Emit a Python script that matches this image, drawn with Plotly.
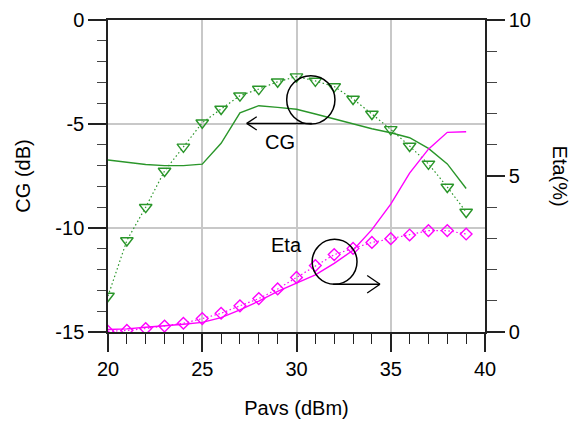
import plotly.graph_objects as go

# ---- data ----
pavs = [20, 21, 22, 23, 24, 25, 26, 27, 28, 29, 30, 31, 32, 33, 34, 35, 36, 37, 38, 39]

cg_sim = [-6.73, -6.85, -6.95, -7.0, -7.0, -6.93, -5.93, -4.46, -4.12, -4.2,
          -4.29, -4.52, -4.75, -4.98, -5.23, -5.42, -5.66, -6.17, -6.92, -8.1]
cg_meas = [-13.27, -10.6, -9.0, -7.26, -6.1, -4.94, -4.28, -3.64, -3.32, -2.97,
           -2.72, -2.93, -3.2, -3.8, -4.52, -5.26, -6.06, -6.92, -8.03, -9.23]

eta_sim = [0.08, 0.1, 0.15, 0.19, 0.25, 0.31, 0.46, 0.71, 0.99, 1.3,
           1.56, 1.83, 2.2, 2.62, 3.28, 4.1, 5.09, 5.86, 6.4, 6.42]
eta_meas = [0.02, 0.05, 0.11, 0.19, 0.28, 0.43, 0.6, 0.84, 1.07, 1.38,
            1.75, 2.13, 2.48, 2.68, 2.87, 2.99, 3.11, 3.25, 3.25, 3.14]

x_ticks = [20, 25, 30, 35, 40]
x_ticktext = ["20", "25", "30", "35", "40"]
cg_ticks = [0, -5, -10, -15]
cg_ticktext = ["0", "-5", "-10", "-15"]
eta_ticks = [0, 5, 10]
eta_ticktext = ["0", "5", "10"]

# annotation geometry (data units)
cg_circle = dict(cx=30.76, cy=-3.84, rx=1.28, ry=1.16)
cg_arrow = dict(x0=30.81, x1=27.36, y=-4.97, hx=27.89, hy=0.32)
cg_label = dict(x=29.15, y=-5.85, text="CG")
eta_circle = dict(cx=32.02, cy=2.25, rx=1.19, ry=0.72)
eta_arrow = dict(x0=31.95, x1=34.43, y=1.53, hx=33.75, hy=0.28)
eta_label = dict(x=29.48, y=2.78, text="Eta")

GREEN = "#2a962a"
MAGENTA = "#ff00ff"
FONT = "Arial, Liberation Sans, sans-serif"
DOT = "1.5px,2.5px"

fig = go.Figure()
fig.add_trace(go.Scatter(x=pavs, y=cg_sim, mode="lines",
                         line=dict(color=GREEN, width=1.4), yaxis="y"))
fig.add_trace(go.Scatter(x=pavs, y=cg_meas, mode="lines+markers",
                         line=dict(color=GREEN, width=1.2, dash=DOT),
                         marker=dict(symbol="triangle-down-open", size=11,
                                     color=GREEN, line=dict(width=1.4)),
                         yaxis="y"))
fig.add_trace(go.Scatter(x=pavs, y=eta_sim, mode="lines",
                         line=dict(color=MAGENTA, width=1.4), yaxis="y2"))
fig.add_trace(go.Scatter(x=pavs, y=eta_meas, mode="lines+markers",
                         line=dict(color=MAGENTA, width=1.2, dash=DOT),
                         marker=dict(symbol="diamond-open", size=9,
                                     color=MAGENTA, line=dict(width=1.4)),
                         yaxis="y2"))

shapes = []
# CG circle + arrow
shapes.append(dict(type="circle", xref="x", yref="y",
                   x0=cg_circle["cx"] - cg_circle["rx"], x1=cg_circle["cx"] + cg_circle["rx"],
                   y0=cg_circle["cy"] - cg_circle["ry"], y1=cg_circle["cy"] + cg_circle["ry"],
                   line=dict(color="black", width=1.5)))
shapes.append(dict(type="line", xref="x", yref="y", x0=cg_arrow["x0"], x1=cg_arrow["x1"],
                   y0=cg_arrow["y"], y1=cg_arrow["y"], line=dict(color="black", width=1.5)))
for s in (1, -1):
    shapes.append(dict(type="line", xref="x", yref="y", x0=cg_arrow["x1"], x1=cg_arrow["hx"],
                       y0=cg_arrow["y"], y1=cg_arrow["y"] + s * cg_arrow["hy"],
                       line=dict(color="black", width=1.3)))
# Eta circle + arrow
shapes.append(dict(type="circle", xref="x", yref="y2",
                   x0=eta_circle["cx"] - eta_circle["rx"], x1=eta_circle["cx"] + eta_circle["rx"],
                   y0=eta_circle["cy"] - eta_circle["ry"], y1=eta_circle["cy"] + eta_circle["ry"],
                   line=dict(color="black", width=1.5)))
shapes.append(dict(type="line", xref="x", yref="y2", x0=eta_arrow["x0"], x1=eta_arrow["x1"],
                   y0=eta_arrow["y"], y1=eta_arrow["y"], line=dict(color="black", width=1.5)))
for s in (1, -1):
    shapes.append(dict(type="line", xref="x", yref="y2", x0=eta_arrow["x1"], x1=eta_arrow["hx"],
                       y0=eta_arrow["y"], y1=eta_arrow["y"] + s * eta_arrow["hy"],
                       line=dict(color="black", width=1.3)))

annotations = [
    dict(xref="x", yref="y", x=cg_label["x"], y=cg_label["y"], text=cg_label["text"],
         showarrow=False, font=dict(size=20, color="black", family=FONT)),
    dict(xref="x", yref="y2", x=eta_label["x"], y=eta_label["y"], text=eta_label["text"],
         showarrow=False, font=dict(size=20, color="black", family=FONT)),
    dict(xref="paper", yref="paper", x=1.2, y=0.5, xanchor="center", yanchor="middle",
         text="Eta(%)", textangle=90,
         showarrow=False, font=dict(size=20, color="black", family=FONT)),
]

axis_common = dict(showline=True, linecolor="#222222", linewidth=1.5,
                   ticks="outside", ticklen=18, tickwidth=1.5, tickcolor="#222222",
                   showgrid=True, gridcolor="#c8c8c8", gridwidth=1.5,
                   zeroline=False, automargin=False,
                   tickfont=dict(size=20, color="black", family=FONT))

# page body has an 8px default margin: figure is sized/offset to compensate
fig.update_layout(
    width=571, height=413,
    margin=dict(l=100, r=94, t=12, b=89),
    paper_bgcolor="white", plot_bgcolor="white",
    showlegend=False,
    font=dict(family=FONT, size=20, color="black"),
    xaxis=dict(range=[20, 40], tickvals=x_ticks, ticktext=x_ticktext, mirror=True,
               minor=dict(dtick=1, ticks="outside", ticklen=10, tickwidth=1.3,
                          tickcolor="#222222", showgrid=False),
               title=dict(text="Pavs (dBm)", standoff=22,
                          font=dict(size=20, family=FONT)),
               **axis_common),
    yaxis=dict(range=[-15, 0], tickvals=cg_ticks, ticktext=cg_ticktext,
               minor=dict(dtick=1, ticks="outside", ticklen=9, tickwidth=1.3,
                          tickcolor="#444444", showgrid=False),
               title=dict(text="CG (dB)", standoff=19,
                          font=dict(size=20, family=FONT)),
               **axis_common),
    yaxis2=dict(range=[0, 10], tickvals=eta_ticks, ticktext=eta_ticktext,
                overlaying="y", side="right",
                minor=dict(dtick=1, ticks="outside", ticklen=10, tickwidth=1.3,
                           tickcolor="#444444", showgrid=False),
                **{**axis_common, "showgrid": False}),
    shapes=shapes,
    annotations=annotations,
)

fig.write_html("out.html")
